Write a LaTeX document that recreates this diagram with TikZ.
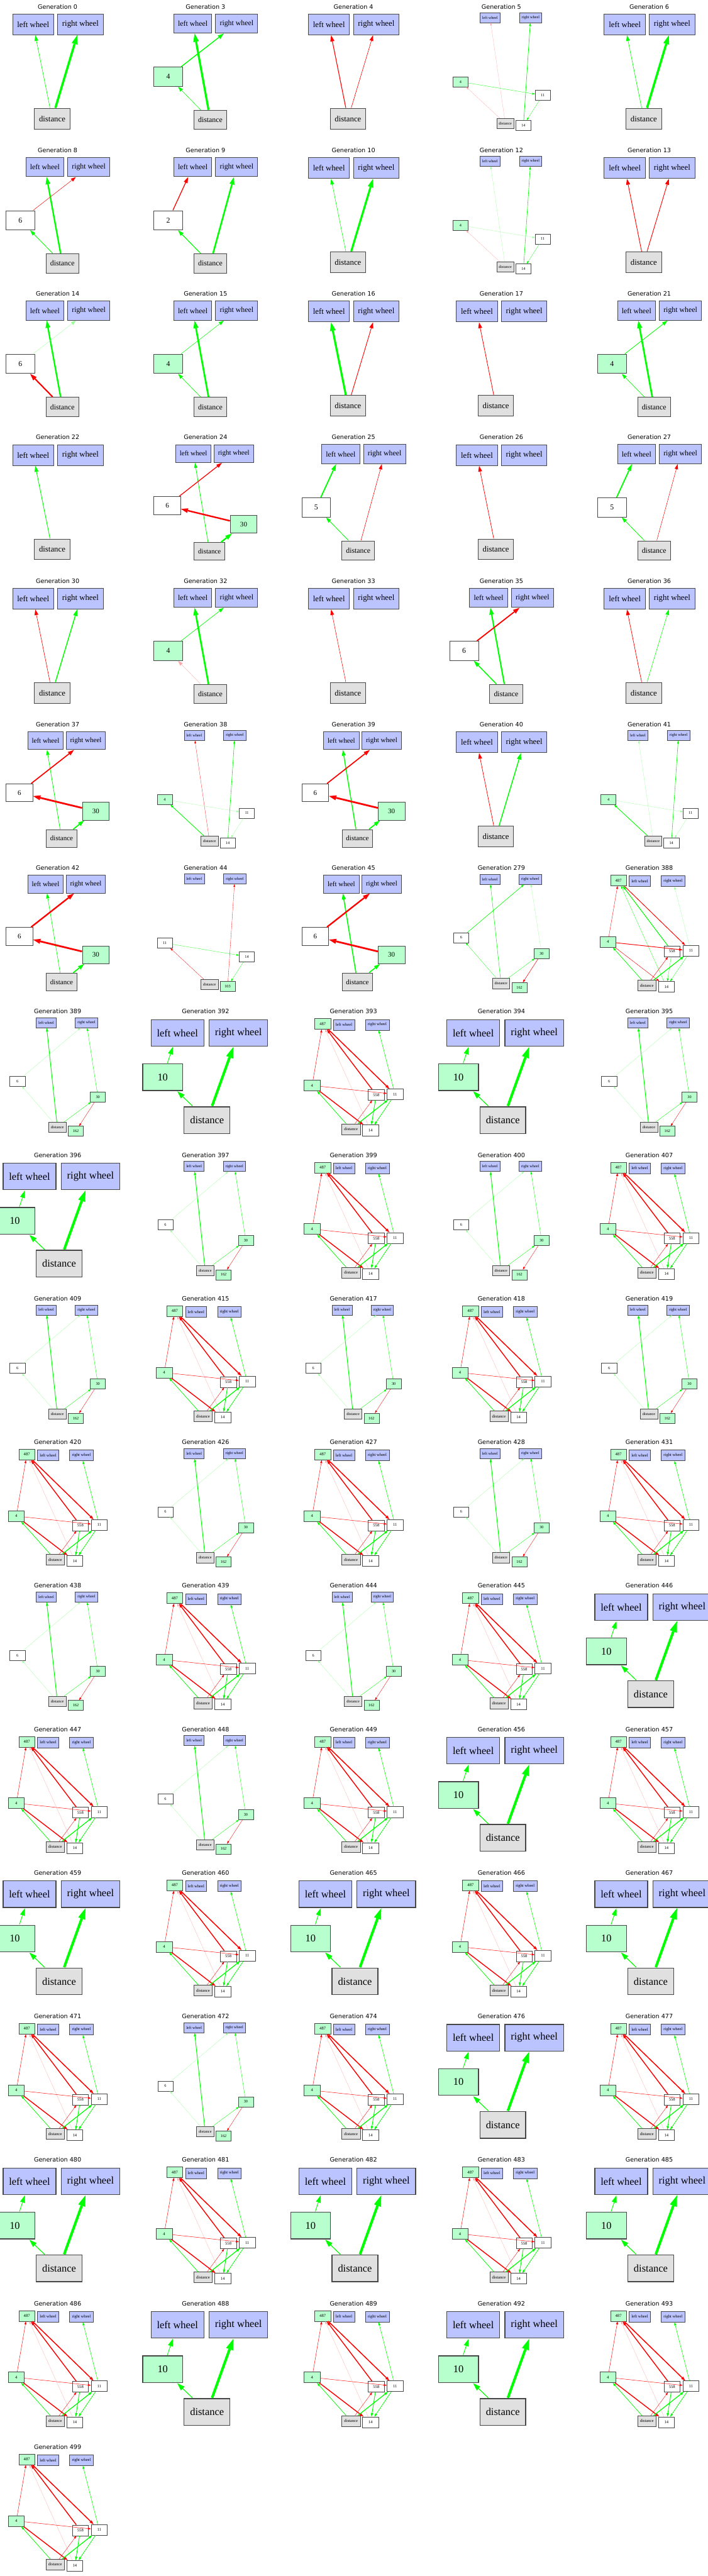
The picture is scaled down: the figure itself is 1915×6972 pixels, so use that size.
\documentclass[tikz,border=0pt]{standalone}
\usepackage{fontspec}
\usetikzlibrary{arrows.meta}
\newfontfamily\titlefont{DejaVu Sans}
\newfontfamily\nodefont{Liberation Serif}
\definecolor{G}{RGB}{0,255,0}
\definecolor{R}{RGB}{255,0,0}
\definecolor{pg}{RGB}{150,255,150}
\definecolor{pr}{RGB}{255,165,165}
\definecolor{fb}{RGB}{187,196,255}
\definecolor{fg}{RGB}{183,255,204}
\definecolor{fd}{RGB}{224,224,224}
\definecolor{bd}{RGB}{70,70,70}
\tikzset{
 nbox/.style={draw=bd, rectangle, inner sep=0pt, minimum height=36pt, font=\nodefont\fontsize{14}{16}\selectfont, transform shape},
 lwn/.style={nbox, fill=fb, minimum width=71.6pt},
 rwn/.style={nbox, fill=fb, minimum width=79.4pt},
 dn/.style={nbox, fill=fd, minimum width=62pt},
 hw/.style={nbox, fill=white, minimum width=54pt},
 hg/.style={nbox, fill=fg, minimum width=54pt},
 ttl/.style={font=\titlefont\fontsize{16.4}{20}\selectfont, text=black, inner sep=0pt}
}
\newcommand\Pan[4]{%
  \pgfmathsetmacro\cx{156+400.4*#1}%
  \pgfmathsetmacro\cy{388.5*#2}%
  \def\cur{#3}\def\s{#4}%
  \pgfmathsetmacro\nlw{1.1*#4}%
  \node[ttl] (t#3) at (\cx,\cy+18) {Generation #3};}
\newcommand\E[4]{%
  \pgfmathsetmacro\elw{max(#4*\s,0.45)}%
  \pgfmathsetmacro\eal{(8.5+1.8*#4)*\s}%
  \pgfmathsetmacro\eaw{(6+1.2*#4)*\s}%
  \draw[draw=#3, line width=\elw pt, -{Triangle[length=\eal pt, width=\eaw pt, line width=0pt]}] (\cur-#1) -- (\cur-#2);}
\newcommand\SThree[4]{\Pan{#1}{#2}{#3}{1.555}%
 \begin{scope}[shift={(\cx,\cy+32)},scale=\s,every node/.append style={line width=\nlw pt}]
 \node[lwn] (\cur-lw) at (-42.6,22) {left wheel};
 \node[rwn] (\cur-rw) at (39.7,22) {right wheel};
 \node[dn] (\cur-d) at (-9.5,186) {distance};
 \end{scope}#4}
\newcommand\HOne[6]{\Pan{#1}{#2}{#3}{1.44}%
 \begin{scope}[shift={(\cx,\cy+32)},scale=\s,every node/.append style={line width=\nlw pt}]
 \node[lwn] (\cur-lw) at (-24,22) {left wheel};
 \node[rwn] (\cur-rw) at (58.5,22) {right wheel};
 \node[#5] (\cur-h) at (-70,122) {#4};
 \node[dn] (\cur-d) at (9,203) {distance};
 \end{scope}#6}
\newcommand\MFive[4]{\Pan{#1}{#2}{#3}{1.34}%
 \begin{scope}[shift={(\cx,\cy+32)},scale=\s,every node/.append style={line width=\nlw pt}]
 \node[lwn] (\cur-lw) at (-24.4,22.4) {left wheel};
 \node[rwn] (\cur-rw) at (57,22.4) {right wheel};
 \node[hw] (\cur-6) at (-77.3,127.7) {6};
 \node[hg] (\cur-30) at (77,165) {30};
 \node[dn] (\cur-d) at (8.1,220) {distance};
 \end{scope}#4}
\newcommand\SmA[4]{\Pan{#1}{#2}{#3}{0.76}%
 \begin{scope}[shift={(\cx,\cy+32)},scale=\s,every node/.append style={line width=\nlw pt}]
 \node[lwn] (\cur-lw) at (-40.4,21) {left wheel};
 \node[rwn] (\cur-rw) at (104.2,21) {right wheel};
 \node[hg] (\cur-4) at (-145.4,249) {4};
 \node[hw] (\cur-11) at (147,297.4) {11};
 \node[dn] (\cur-d) at (14,397) {distance};
 \node[hw] (\cur-14) at (78.7,404) {14};
 \end{scope}#4}
\newcommand\SmB[4]{\Pan{#1}{#2}{#3}{0.76}%
 \begin{scope}[shift={(\cx,\cy+32)},scale=\s,every node/.append style={line width=\nlw pt}]
 \node[lwn] (\cur-lw) at (-40.4,21) {left wheel};
 \node[rwn] (\cur-rw) at (104.2,21) {right wheel};
 \node[hw] (\cur-11) at (-145.4,249) {11};
 \node[hw] (\cur-14) at (147,297.4) {14};
 \node[dn] (\cur-d) at (14,397) {distance};
 \node[hg] (\cur-103) at (78.7,404) {103};
 \end{scope}#4}
\newcommand\SmC[4]{\Pan{#1}{#2}{#3}{0.76}%
 \begin{scope}[shift={(\cx,\cy+32)},scale=\s,every node/.append style={line width=\nlw pt}]
 \node[lwn] (\cur-lw) at (-40.8,22) {left wheel};
 \node[rwn] (\cur-rw) at (102.6,22) {right wheel};
 \node[hw] (\cur-6) at (-143,230) {6};
 \node[hg] (\cur-30) at (143.4,286) {30};
 \node[dn] (\cur-d) at (-1.3,393) {distance};
 \node[hg] (\cur-162) at (64.5,408) {162};
 \end{scope}#4}
\newcommand\CX[4]{\Pan{#1}{#2}{#3}{0.805}%
 \begin{scope}[shift={(\cx,\cy+32)},scale=\s,every node/.append style={line width=\nlw pt}]
 \node[hg] (\cur-487) at (-103.5,24.5) {487};
 \node[lwn] (\cur-lw) at (-31.9,27.3) {left wheel};
 \node[rwn] (\cur-rw) at (80.1,27.3) {right wheel};
 \node[hg] (\cur-4) at (-139.1,231.4) {4};
 \node[hw] (\cur-558) at (76.6,263) {558};
 \node[hw] (\cur-11) at (139.8,261.2) {11};
 \node[dn] (\cur-d) at (-8.3,378) {distance};
 \node[hw] (\cur-14) at (57.8,382.2) {14};
 \end{scope}#4}
\newcommand\HTwo[4]{\Pan{#1}{#2}{#3}{2.0}%
 \begin{scope}[shift={(\cx,\cy+32)},scale=\s,every node/.append style={line width=\nlw pt}]
 \node[lwn] (\cur-lw) at (-38,22) {left wheel};
 \node[rwn] (\cur-rw) at (44.5,22) {right wheel};
 \node[hg] (\cur-10) at (-58,82) {10};
 \node[dn] (\cur-d) at (2,140) {distance};
 \end{scope}#4}
\newcommand\CXbase{\E{4}{487}{R}{1.0}\E{558}{487}{R}{3.0}\E{487}{11}{R}{3.2}\E{14}{487}{pr}{0.3}%
 \E{4}{11}{R}{1.0}\E{4}{14}{R}{3.0}\E{d}{4}{G}{1.6}\E{d}{558}{R}{0.8}\E{d}{11}{G}{2.6}%
 \E{558}{14}{G}{2.0}\E{11}{14}{G}{1.6}\E{11}{rw}{G}{1.2}}
\newcommand\SCbase{\E{d}{lw}{G}{2.2}\E{6}{rw}{pg}{0.5}\E{30}{rw}{G}{0.9}\E{d}{6}{pg}{0.5}\E{d}{30}{G}{0.8}\E{30}{162}{R}{0.8}}
\newcommand\HTbase{\E{d}{10}{G}{1.0}\E{10}{lw}{G}{0.8}\E{d}{rw}{G}{3.5}}
\begin{document}
\begin{tikzpicture}[x=1pt,y=-1pt]
\fill[white] (0,0) rectangle (1915,6972);
\useasboundingbox (0,0) rectangle (1915,6972);
% Row 0
\SThree{0}{0}{0}{\E{d}{lw}{G}{0.7}\E{d}{rw}{G}{3.9}}
\HOne{1}{0}{3}{4}{hg}{\E{d}{h}{G}{0.7}\E{h}{rw}{G}{1.7}\E{d}{lw}{G}{3.9}}
\SThree{2}{0}{4}{\E{d}{lw}{R}{1.2}\E{d}{rw}{R}{0.7}}
\SmA{3}{0}{5}{\E{d}{lw}{pr}{0.3}\E{14}{rw}{G}{1.6}\E{4}{11}{G}{0.7}\E{11}{14}{G}{0.5}\E{d}{4}{pr}{0.6}}
\SThree{4}{0}{6}{\E{d}{lw}{G}{0.7}\E{d}{rw}{G}{3.9}}
% Row 1
\HOne{0}{1}{8}{6}{hw}{\E{d}{lw}{G}{2.8}\E{h}{rw}{R}{0.6}\E{d}{h}{G}{1.0}}
\HOne{1}{1}{9}{2}{hw}{\E{h}{lw}{R}{1.5}\E{d}{rw}{G}{3.0}\E{d}{h}{G}{1.4}}
\SThree{2}{1}{10}{\E{d}{lw}{G}{0.6}\E{d}{rw}{G}{3.5}}
\SmA{3}{1}{12}{\E{d}{lw}{pg}{0.3}\E{14}{rw}{G}{1.4}\E{4}{11}{pg}{0.6}\E{11}{14}{G}{0.5}\E{d}{4}{pr}{0.5}}
\SThree{4}{1}{13}{\E{d}{lw}{R}{1.0}\E{d}{rw}{R}{1.0}}
% Row 2
\HOne{0}{2}{14}{6}{hw}{\E{d}{lw}{G}{2.8}\E{h}{rw}{pg}{0.4}\E{d}{h}{R}{2.5}}
\HOne{1}{2}{15}{4}{hg}{\E{d}{lw}{G}{3.2}\E{h}{rw}{G}{0.6}\E{d}{h}{G}{0.8}}
\SThree{2}{2}{16}{\E{d}{lw}{G}{3.5}\E{d}{rw}{R}{1.0}}
\SThree{3}{2}{17}{\E{d}{lw}{R}{0.9}}
\HOne{4}{2}{21}{4}{hg}{\E{d}{lw}{G}{3.2}\E{h}{rw}{G}{1.0}\E{d}{h}{G}{0.8}}
% Row 3
\SThree{0}{3}{22}{\E{d}{lw}{G}{1.0}}
\MFive{1}{3}{24}{\E{d}{lw}{G}{1.0}\E{6}{rw}{R}{1.6}\E{30}{6}{R}{3.0}\E{d}{30}{G}{3.0}}
\HOne{2}{3}{25}{5}{hw}{\E{h}{lw}{G}{2.2}\E{d}{rw}{R}{0.7}\E{d}{h}{G}{1.0}}
\SThree{3}{3}{26}{\E{d}{lw}{R}{0.8}}
\HOne{4}{3}{27}{5}{hw}{\E{h}{lw}{G}{2.2}\E{d}{rw}{R}{0.6}\E{d}{h}{G}{1.0}}
% Row 4
\SThree{0}{4}{30}{\E{d}{lw}{R}{0.7}\E{d}{rw}{G}{1.6}}
\HOne{1}{4}{32}{4}{hg}{\E{d}{lw}{G}{3.2}\E{h}{rw}{G}{0.8}\E{d}{h}{pr}{0.4}}
\SThree{2}{4}{33}{\E{d}{lw}{R}{0.6}}
\HOne{3}{4}{35}{6}{hw}{\E{d}{lw}{G}{2.5}\E{h}{rw}{R}{2.2}\E{d}{h}{G}{1.8}}
\SThree{4}{4}{36}{\E{d}{lw}{R}{0.8}\E{d}{rw}{G}{0.6}}
% Row 5
\MFive{0}{5}{37}{\E{d}{lw}{G}{1.0}\E{6}{rw}{R}{2.2}\E{30}{6}{R}{3.5}\E{d}{30}{G}{2.2}}
\SmA{1}{5}{38}{\E{d}{lw}{R}{0.6}\E{14}{rw}{G}{1.4}\E{d}{4}{G}{2.0}\E{4}{11}{pg}{0.4}\E{11}{14}{pg}{0.4}}
\MFive{2}{5}{39}{\E{d}{lw}{G}{1.8}\E{6}{rw}{R}{2.2}\E{30}{6}{R}{3.5}\E{d}{30}{G}{2.2}}
\SThree{3}{5}{40}{\E{d}{lw}{R}{0.8}\E{d}{rw}{G}{1.6}}
\SmA{4}{5}{41}{\E{d}{lw}{pg}{0.4}\E{14}{rw}{G}{1.4}\E{d}{4}{G}{2.0}\E{4}{11}{pg}{0.4}\E{11}{14}{pg}{0.4}}
% Row 6
\MFive{0}{6}{42}{\E{d}{lw}{G}{0.8}\E{6}{rw}{R}{3.0}\E{30}{6}{R}{3.5}\E{d}{30}{G}{2.2}}
\SmB{1}{6}{44}{\E{d}{11}{R}{0.7}\E{11}{14}{G}{0.6}\E{14}{103}{G}{0.5}\E{103}{rw}{R}{0.7}}
\MFive{2}{6}{45}{\E{d}{lw}{G}{2.0}\E{6}{rw}{R}{3.0}\E{30}{6}{R}{3.5}\E{d}{30}{G}{2.0}}
\SmC{3}{6}{279}{\E{d}{lw}{G}{1.2}\E{6}{rw}{G}{1.4}\E{30}{rw}{pg}{0.5}\E{d}{6}{G}{0.5}\E{d}{30}{G}{0.7}\E{30}{162}{R}{1.2}}
\CX{4}{6}{388}{\E{4}{487}{R}{0.8}\E{487}{11}{R}{2.0}\E{558}{487}{G}{2.2}\E{14}{487}{G}{0.6}\E{4}{11}{R}{2.0}\E{d}{4}{G}{1.5}\E{4}{14}{R}{1.0}\E{d}{558}{R}{1.0}\E{d}{11}{G}{2.5}\E{558}{14}{G}{0.7}\E{11}{14}{G}{0.6}\E{11}{rw}{pg}{0.5}}
% Row 7
\SmC{0}{7}{389}{\SCbase}
\HTwo{1}{7}{392}{\HTbase}
\CX{2}{7}{393}{\CXbase}
\HTwo{3}{7}{394}{\HTbase}
\SmC{4}{7}{395}{\SCbase}
% Row 8
\HTwo{0}{8}{396}{\HTbase}
\SmC{1}{8}{397}{\SCbase}
\CX{2}{8}{399}{\CXbase}
\SmC{3}{8}{400}{\SCbase}
\CX{4}{8}{407}{\CXbase}
% Row 9
\SmC{0}{9}{409}{\SCbase}
\CX{1}{9}{415}{\CXbase}
\SmC{2}{9}{417}{\SCbase}
\CX{3}{9}{418}{\CXbase}
\SmC{4}{9}{419}{\SCbase}
% Row 10
\CX{0}{10}{420}{\CXbase}
\SmC{1}{10}{426}{\SCbase}
\CX{2}{10}{427}{\CXbase}
\SmC{3}{10}{428}{\SCbase}
\CX{4}{10}{431}{\CXbase}
% Row 11
\SmC{0}{11}{438}{\SCbase}
\CX{1}{11}{439}{\CXbase}
\SmC{2}{11}{444}{\SCbase}
\CX{3}{11}{445}{\CXbase}
\HTwo{4}{11}{446}{\HTbase}
% Row 12
\CX{0}{12}{447}{\CXbase}
\SmC{1}{12}{448}{\SCbase}
\CX{2}{12}{449}{\CXbase}
\HTwo{3}{12}{456}{\HTbase}
\CX{4}{12}{457}{\CXbase}
% Row 13
\HTwo{0}{13}{459}{\HTbase}
\CX{1}{13}{460}{\CXbase}
\HTwo{2}{13}{465}{\HTbase}
\CX{3}{13}{466}{\CXbase}
\HTwo{4}{13}{467}{\HTbase}
% Row 14
\CX{0}{14}{471}{\CXbase}
\SmC{1}{14}{472}{\SCbase}
\CX{2}{14}{474}{\CXbase}
\HTwo{3}{14}{476}{\HTbase}
\CX{4}{14}{477}{\CXbase}
% Row 15
\HTwo{0}{15}{480}{\HTbase}
\CX{1}{15}{481}{\CXbase}
\HTwo{2}{15}{482}{\HTbase}
\CX{3}{15}{483}{\CXbase}
\HTwo{4}{15}{485}{\HTbase}
% Row 16
\CX{0}{16}{486}{\CXbase}
\HTwo{1}{16}{488}{\HTbase}
\CX{2}{16}{489}{\CXbase}
\HTwo{3}{16}{492}{\HTbase}
\CX{4}{16}{493}{\CXbase}
% Row 17
\CX{0}{17}{499}{\CXbase}
\end{tikzpicture}
\end{document}
